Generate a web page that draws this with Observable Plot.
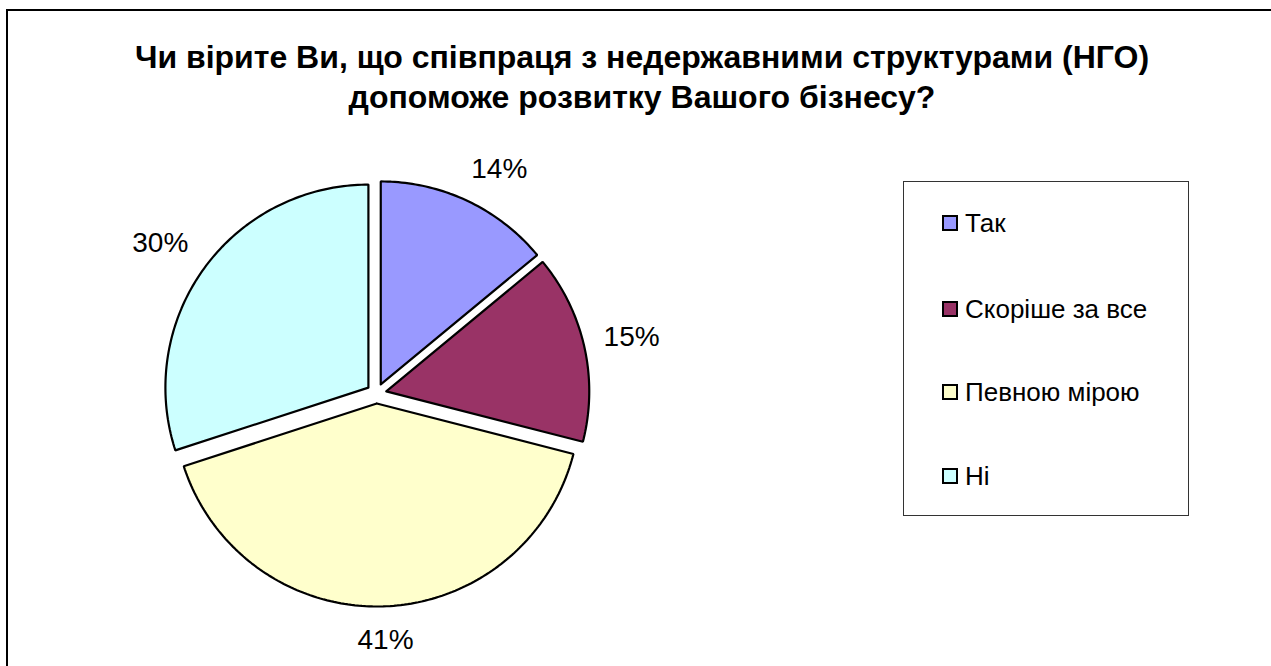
<!DOCTYPE html>
<html><head><meta charset="utf-8">
<script src="https://cdn.jsdelivr.net/npm/d3@7"></script>
<script src="https://cdn.jsdelivr.net/npm/@observablehq/plot@0.6"></script>
<style>
body{margin:0;background:#fff;font-family:"Liberation Sans",Arial,sans-serif;overflow:hidden;}
#frame{position:absolute;left:6px;top:9px;width:1300px;height:700px;border:2px solid #000;}
#title{position:absolute;left:0;top:37px;width:1284px;text-align:center;font-weight:bold;font-size:32px;line-height:40px;color:#000;}
#chart{position:absolute;left:0;top:0;}
#legend{position:absolute;left:903px;top:181px;width:286px;height:335px;border:1px solid #333;box-sizing:border-box;background:#fff;}
.item{position:absolute;left:38px;height:30px;display:flex;align-items:center;font-size:26px;color:#000;white-space:nowrap;}
.sw{width:12px;height:12px;border:2px solid #000;margin-right:7px;flex:none;}
</style></head>
<body>
<div id="frame"></div>
<div id="chart"></div>
<div id="title">Чи вірите Ви, що співпраця з недержавними структурами (НГО)<br>допоможе розвитку Вашого бізнесу?</div>
<div id="legend"></div>
<script>
const categories = ["Так", "Скоріше за все", "Певною мірою", "Ні"];
const values = [14, 15, 41, 30];
const labels = ["14%", "15%", "41%", "30%"];
const colors = ["#9999FF", "#993366", "#FFFFCC", "#CCFFFF"];

// layout constants (pixels)
const W = 1271, H = 666, R = 203, CX = 376, CY = 393, EXPLODE = 10, GAP = 20;
const LABEL_FS = 28;

const arcs = d3.pie().sort(null).value(d => d.v)(categories.map((c, i) => ({c, v: values[i], l: labels[i]})));
const off = EXPLODE / R;
const pts = [];
const labs = [];
const sat = u => Math.max(-1, Math.min(1, 2 * u));
arcs.forEach(a => {
  const mid = (a.startAngle + a.endAngle) / 2;
  const ux = Math.sin(mid), uy = Math.cos(mid);
  const ox = ux * off, oy = uy * off;
  pts.push({cat: a.data.c, x: ox, y: oy});
  const n = Math.max(2, Math.ceil((a.endAngle - a.startAngle) / (Math.PI / 180)));
  for (let k = 0; k <= n; k++) {
    const t = a.startAngle + (a.endAngle - a.startAngle) * k / n;
    pts.push({cat: a.data.c, x: ox + Math.sin(t), y: oy + Math.cos(t)});
  }
  pts.push({cat: a.data.c, x: ox, y: oy});
  const halfW = a.data.l.length * 0.33 * LABEL_FS, halfH = LABEL_FS / 2;
  const base = (R + EXPLODE + GAP) / R;
  labs.push({
    x: ux * base + sat(ux) * halfW / R,
    y: uy * base + sat(uy) * halfH / R,
    text: a.data.l
  });
});

const plot = Plot.plot({
  width: W, height: H, margin: 0,
  style: {fontFamily: "Liberation Sans, Arial, sans-serif", background: "transparent"},
  x: {domain: [-CX / R, (W - CX) / R], axis: null},
  y: {domain: [-(H - CY) / R, CY / R], axis: null},
  color: {domain: categories, range: colors},
  marks: [
    Plot.line(pts, {x: "x", y: "y", z: "cat", fill: "cat", stroke: "#000", strokeWidth: 2.2, strokeLinejoin: "miter", curve: "linear"}),
    Plot.text(labs, {x: "x", y: "y", text: "text", fontSize: LABEL_FS, fill: "#000"})
  ]
});
document.getElementById("chart").appendChild(plot);

const legendTops = [222, 308, 391, 475];
const lg = document.getElementById("legend");
categories.forEach((c, i) => {
  const it = document.createElement("div");
  it.className = "item";
  it.style.top = (legendTops[i] - 181 - 15) + "px";
  it.innerHTML = `<span class="sw" style="background:${colors[i]}"></span><span>${c}</span>`;
  lg.appendChild(it);
});
</script>
</body></html>
